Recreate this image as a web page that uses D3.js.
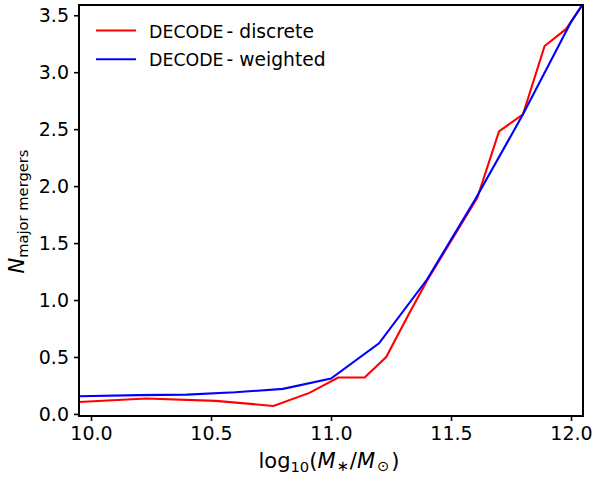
<!DOCTYPE html>
<html>
<head>
<meta charset="utf-8">
<script src="https://cdn.jsdelivr.net/npm/d3@7/dist/d3.min.js"></script>
<style>
  html, body { margin: 0; padding: 0; background: #fff; }
  svg { display: block; font-family: "DejaVu Sans", sans-serif; }
</style>
</head>
<body>
<div id="chart"></div>
<script>
// ---- data ----
const discreteX = [9.95, 10.23, 10.52, 10.76, 10.91, 11.03, 11.14, 11.23, 11.325, 11.40, 11.61, 11.70, 11.80, 11.89, 11.98, 12.05];
const discreteY = [0.105, 0.135, 0.115, 0.07, 0.185, 0.32, 0.32, 0.50, 0.88, 1.17, 1.90, 2.48, 2.63, 3.23, 3.38, 3.60];
const weightedX = [9.95, 10.2, 10.4, 10.6, 10.8, 11.0, 11.2, 11.4, 11.6, 11.8, 12.0, 12.05];
const weightedY = [0.155, 0.165, 0.17, 0.19, 0.22, 0.31, 0.62, 1.18, 1.88, 2.63, 3.44, 3.60];
const xTicks = [10.0, 10.5, 11.0, 11.5, 12.0];
const yTicks = [0.0, 0.5, 1.0, 1.5, 2.0, 2.5, 3.0, 3.5];
const seriesNames = ["discrete", "weighted"];
const seriesColors = ["#ff0000", "#0000ff"];

const W = 593, H = 477;
const m = { left: 79, right: 583, top: 5, bottom: 416 };

const svg = d3.select("#chart").append("svg").attr("width", W).attr("height", H);

const x = d3.scaleLinear().domain([9.95, 12.05]).range([m.left, m.right]);
const y = d3.scaleLinear().domain([-0.018, 3.59]).range([m.bottom, m.top]);

svg.append("defs").append("clipPath").attr("id", "clip")
  .append("rect").attr("x", m.left).attr("y", m.top)
  .attr("width", m.right - m.left).attr("height", m.bottom - m.top);

const series = [
  { xs: discreteX, ys: discreteY, color: seriesColors[0] },
  { xs: weightedX, ys: weightedY, color: seriesColors[1] }
];
const line = d3.line().x(d => x(d[0])).y(d => y(d[1]));
const g = svg.append("g").attr("clip-path", "url(#clip)");
series.forEach(s => {
  g.append("path")
    .datum(s.xs.map((v, i) => [v, s.ys[i]]))
    .attr("d", line)
    .attr("fill", "none")
    .attr("stroke", s.color)
    .attr("stroke-width", 2.1)
    .attr("stroke-linejoin", "miter");
});

// axes
const xAxis = d3.axisBottom(x).tickValues(xTicks).tickFormat(d3.format(".1f")).tickSizeOuter(0).tickSize(5).tickPadding(6);
const yAxis = d3.axisLeft(y).tickValues(yTicks).tickFormat(d3.format(".1f")).tickSizeOuter(0).tickSize(5).tickPadding(5);
const gx = svg.append("g").attr("transform", `translate(0,${m.bottom})`).call(xAxis);
const gy = svg.append("g").attr("transform", `translate(${m.left},0)`).call(yAxis);
[gx, gy].forEach(a => {
  a.select(".domain").remove();
  a.selectAll(".tick line").attr("stroke", "#000").attr("stroke-width", 1.6);
  a.selectAll(".tick text").attr("font-family", "DejaVu Sans").attr("font-size", 19).attr("fill", "#000");
});

// frame
svg.append("rect").attr("x", m.left).attr("y", m.top)
  .attr("width", m.right - m.left).attr("height", m.bottom - m.top)
  .attr("fill", "none").attr("stroke", "#000").attr("stroke-width", 2);

// legend
const leg = svg.append("g");
seriesNames.forEach((n, i) => {
  const ly = 30.5 + i * 28.7;
  leg.append("line").attr("x1", 96).attr("x2", 136).attr("y1", ly).attr("y2", ly)
    .attr("stroke", seriesColors[i]).attr("stroke-width", 2.1);
  const t = leg.append("text").attr("x", 149).attr("y", ly + 7).attr("fill", "#000");
  t.append("tspan").attr("font-size", 17.4).text("DECODE");
  t.append("tspan").attr("font-size", 18.7).attr("dx", 3).text("- " + n);
});

// x label
const xl = svg.append("text").attr("x", 329).attr("y", 467.5).attr("text-anchor", "middle")
  .attr("font-size", 21).attr("fill", "#000");
xl.append("tspan").text("log");
xl.append("tspan").attr("font-size", 14.7).attr("dy", 4).text("10");
xl.append("tspan").attr("dy", -4).text("(");
xl.append("tspan").attr("font-style", "italic").text("M");
xl.append("tspan").attr("font-size", 14.7).attr("dx", 1).attr("dy", 3).text("∗");
xl.append("tspan").attr("dx", 1).attr("dy", -3).text("/");
xl.append("tspan").attr("font-style", "italic").text("M");
xl.append("tspan").attr("font-size", 14.7).attr("dx", 2).attr("dy", 3).text("⊙");
xl.append("tspan").attr("dx", 2).attr("dy", -3).text(")");

// y label
const yl = svg.append("text").attr("transform", "translate(24,211.5) rotate(-90)")
  .attr("text-anchor", "middle").attr("font-size", 21).attr("fill", "#000");
yl.append("tspan").attr("font-style", "italic").text("N");
yl.append("tspan").attr("font-size", 14.7).attr("dy", 4).text("major mergers");
</script>
</body>
</html>
